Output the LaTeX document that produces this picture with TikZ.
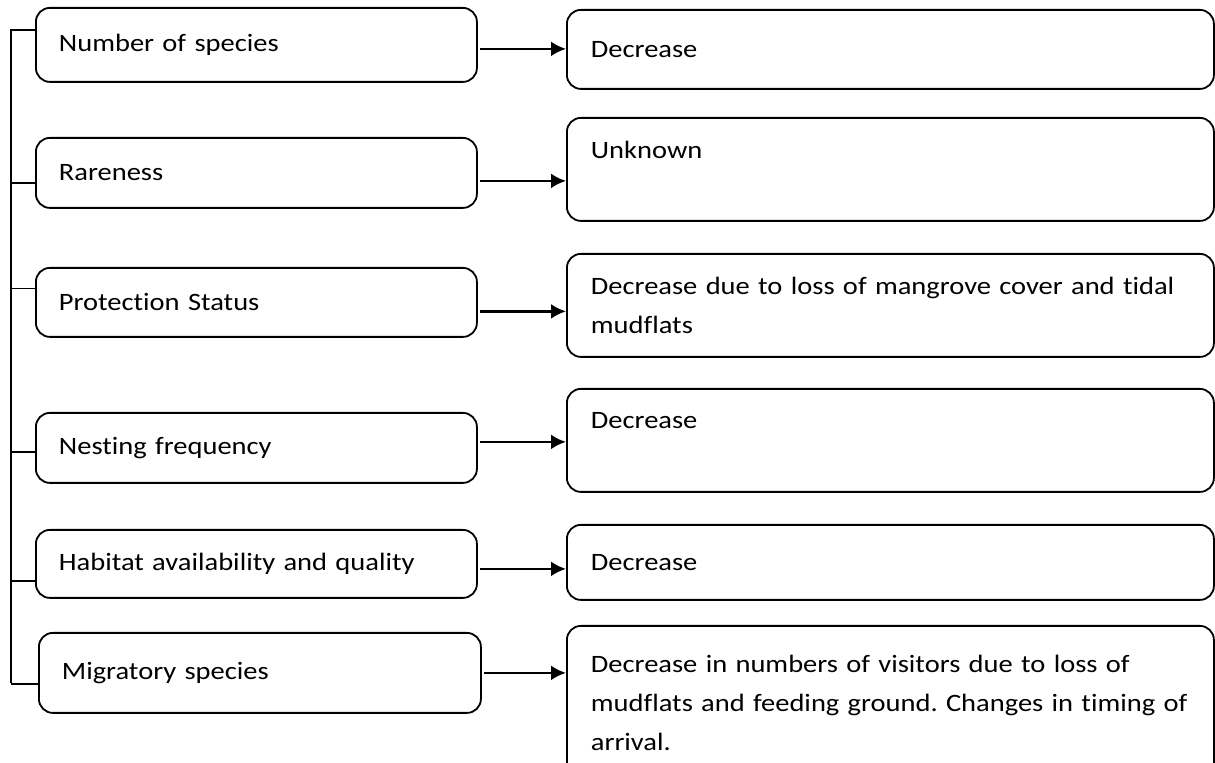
\documentclass[tikz,border=0pt]{standalone}
\usepackage{fontspec}
\setmainfont{Carlito}[FakeStretch=1.14, WordSpace=0.75, Ligatures=NoCommon]
\usepackage{tikz}
\usetikzlibrary{arrows.meta}

\begin{document}
\frenchspacing
\begin{tikzpicture}[
      x=0.5pt, y=-0.5pt,
      arr/.style={-{Latex[length=7.5pt,width=7.5pt]}, line width=1.3pt},
      factor/.style={draw, line width=0.9pt, rounded corners=7pt, anchor=north west,
                     inner xsep=11.5pt, inner ysep=0pt, text width=197.5pt, align=left,
                     font=\fontsize{12.5}{19.5}\selectfont},
      effect/.style={factor, inner xsep=0pt, text width=323.5pt, align=left,
                     execute at begin node={\hspace*{12pt}}}
    ]
    \useasboundingbox (0,0) rectangle (1215,763);
    % factors
    \node[factor, minimum height=37pt] (l1) at (35,7) {Number of species};
    \node[factor, minimum height=35pt] (l2) at (35,137) {Rareness};
    \node[factor, minimum height=34.5pt] (l3) at (35,267) {Protection Status};
    \node[factor, minimum height=35pt] (l4) at (35,412) {Nesting frequency};
    \node[factor, minimum height=34pt] (l5) at (35,529) {Habitat availability and quality};
    \node[factor, minimum height=40pt, text width=198pt] (l6) at (38,632) {Migratory species};
    % effects
    \node[effect, minimum height=39.5pt] (r1) at (566,9) {Decrease};
    \node[effect, minimum height=51.5pt] (r2) at (566,117) {Unknown\\ \mbox{}};
    \node[effect, minimum height=51.5pt] (r3) at (566,253) {Decrease due to loss of mangrove cover and tidal\\ \hspace*{12pt}mudflats};
    \node[effect, minimum height=51.5pt] (r4) at (566,388) {Decrease\\ \mbox{}};
    \node[effect, minimum height=37.5pt] (r5) at (566,524) {Decrease};
    \node[effect, minimum height=77pt] (r6) at (566,625) {Decrease in numbers of visitors due to loss of\\ \hspace*{12pt}mudflats and feeding ground. Changes in timing of\\ \hspace*{12pt}arrival.};
    % spine on the left
    \coordinate (top) at (11,29);
    \coordinate (bot) at (11,683);
    \draw[line width=0.8pt] (top) -- (bot);
    \foreach \b/\dy in {l1/7.5, l2/-5, l3/7, l4/-2, l5/-8.5, l6/-5.5}
      \draw[line width=0.8pt] ([yshift=\dy pt]\b.west) -- ([yshift=\dy pt]\b.west -| top);
    % arrows
    \foreach \b/\e/\dy in {l1/r1/-2, l2/r2/-4, l3/r3/-4.5, l4/r4/3, l5/r5/-2.5, l6/r6/0}
      \draw[arr] ([yshift=\dy pt, xshift=1pt]\b.east) -- ([yshift=\dy pt]\b.east -| \e.west);
  \end{tikzpicture}
\end{document}
